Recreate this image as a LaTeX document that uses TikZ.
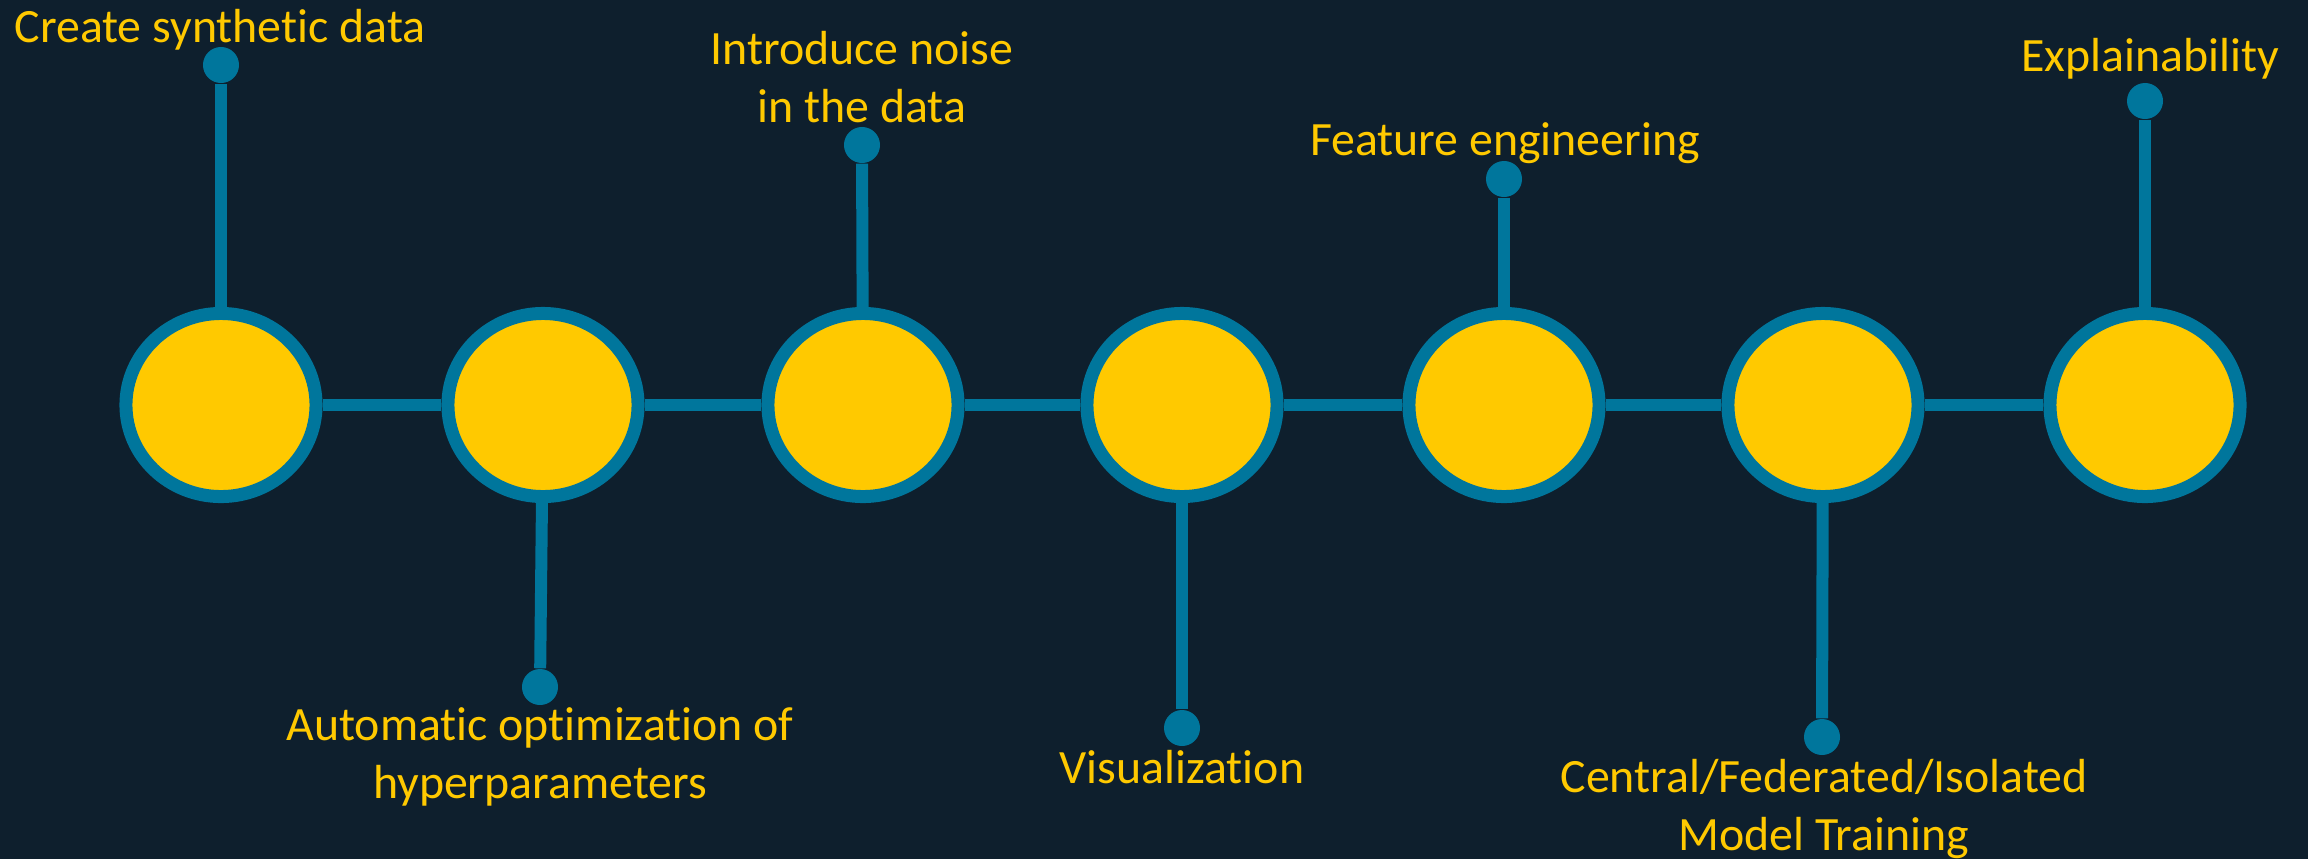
\documentclass[tikz,border=0pt]{standalone}
\usepackage{fontspec}
\setmainfont{Carlito}[Ligatures=NoCommon]
\usetikzlibrary{shapes.geometric}
\definecolor{bgnavy}{HTML}{0E1F2D}
\definecolor{pipeblue}{HTML}{00769C}
\definecolor{stepyellow}{HTML}{FFC900}
\tikzset{
  stage/.style={ellipse,draw=pipeblue,fill=stepyellow,line width=1.3mm,inner sep=0pt,minimum width=1.9cm,minimum height=1.83cm},
  dotend/.style={circle,fill=pipeblue,inner sep=0pt,minimum size=3.6mm},
  tieline/.style={pipeblue,line width=1.2mm},
  steptext/.style={text=stepyellow,font=\fontsize{13.6}{16.3}\selectfont,align=center,anchor=base,inner sep=0pt}
}
\begin{document}
\begin{tikzpicture}[x=0.01cm,y=0.01cm]
\fill[bgnavy] (0,0) rectangle (2308,859);
\useasboundingbox (0,0) rectangle (2308,859);
\foreach \x [count=\i] in {221,543,863,1182,1504,1823,2145} \node[stage] (c\i) at (\x,454) {};
\foreach \i [count=\j from 2] in {1,...,6} \draw[tieline] (c\i) -- (c\j);

\node[dotend] (d1) at (221,794) {};
\node[dotend] (d2) at (540,172) {};
\node[dotend] (d3) at (862,714) {};
\node[dotend] (d4) at (1182,131) {};
\node[dotend] (d5) at (1504,680) {};
\node[dotend] (d6) at (1822,122) {};
\node[dotend] (d7) at (2145,758) {};
\foreach \i in {1,...,7} \draw[tieline] (c\i) -- (d\i);

\node[steptext] (t1) at (220,817) {Create synthetic data};
\node[steptext] (t2) at (540,61) {Automatic optimization of\\hyperparameters};
\node[steptext] (t3) at (862,737) {Introduce noise\\in the data};
\node[steptext] (t4) at (1182,76) {Visualization};
\node[steptext] (t5) at (1505,704) {Feature engineering};
\node[steptext] (t6) at (1824,9) {Central/Federated/Isolated\\Model Training};
\node[steptext] (t7) at (2150,788) {Explainability};
\end{tikzpicture}
\end{document}
